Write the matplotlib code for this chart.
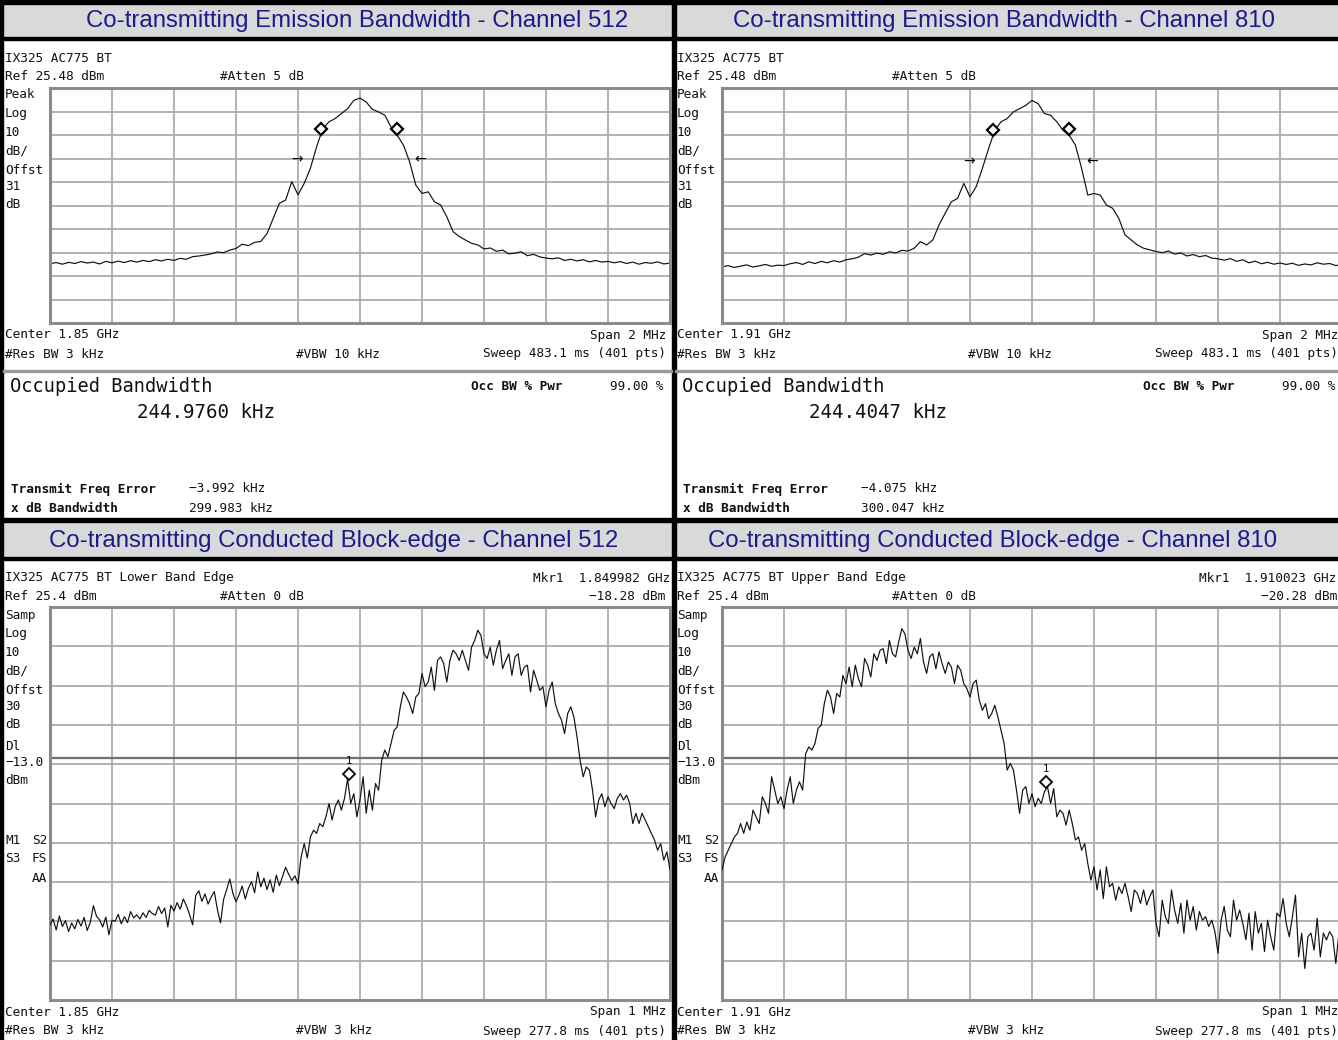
import numpy as np
import matplotlib
matplotlib.use("Agg")
import matplotlib.pyplot as plt
from matplotlib.patches import Rectangle
import matplotlib.transforms as mtransforms

W, H = 1338, 1040
plt.rcParams["font.family"] = ["DejaVu Sans Mono"]

# ============================================================
# Trace data (dBm), points equally spaced across the span
# ============================================================
# Occupied bandwidth sweeps, span 2 MHz, 101 points
obw_ch512 = [-49.3, -48.8, -49.5, -48.7, -49.2, -48.4, -49.0, -48.6, -49.4, -48.3, -48.9,
             -48.2, -48.8, -48.0, -48.6, -47.9, -48.4, -47.6, -48.1, -47.4, -47.9,
             -47.0, -47.4, -46.3, -46.0, -45.6, -45.1, -44.3, -44.6, -43.5, -42.8,
             -41.0, -41.6, -40.2, -39.8, -36.5, -30.0, -23.6, -22.2, -14.4, -20.0,
             -15.1, -8.7, 0.5, 8.2, 11.1, 12.5, 14.6, 16.7, 20.2, 21.2,
             19.5, 16.4, 15.3, 13.9, 8.9, 5.4, 1.2, -5.9, -15.8, -19.4,
             -18.7, -22.9, -24.3, -29.3, -35.6, -37.7, -39.2, -40.6, -41.3, -43.0,
             -42.6, -44.0, -43.5, -45.1, -44.8, -44.2, -45.9, -45.3, -46.4, -46.9,
             -47.2, -46.8, -47.9, -47.4, -48.1, -47.6, -48.5, -47.9, -48.6, -48.3,
             -48.9, -48.4, -49.2, -48.6, -49.5, -48.8, -49.1, -48.5, -49.4, -49.0]
obw_ch810 = [-50.6, -50.1, -50.9, -50.3, -49.8, -50.7, -50.2, -49.6, -50.4, -49.9, -50.1,
             -49.3, -48.8, -49.6, -48.5, -49.2, -48.3, -48.9, -48.0, -48.6, -47.6,
             -47.2, -46.5, -45.0, -45.6, -44.8, -45.3, -44.2, -44.7, -43.6, -43.9,
             -42.7, -39.9, -41.3, -39.2, -32.8, -27.8, -22.9, -21.5, -15.1, -20.8,
             -16.5, -8.7, -0.3, 7.5, 11.1, 12.5, 15.3, 16.7, 18.1, 20.2,
             18.8, 14.6, 13.9, 11.1, 7.5, 5.4, 1.2, -8.7, -20.1, -19.4,
             -20.1, -24.3, -25.7, -30.0, -37.0, -39.2, -41.3, -42.7, -43.4, -44.1,
             -44.6, -43.9, -45.2, -44.7, -46.0, -45.4, -46.3, -45.8, -46.9, -47.2,
             -47.8, -47.1, -48.3, -47.6, -48.9, -48.2, -49.3, -48.7, -49.5, -49.0,
             -49.6, -49.1, -50.0, -49.4, -49.8, -48.9, -49.5, -49.2, -50.1, -49.6]

# Block-edge sweeps, span 1 MHz, 201 points
edge_ch512 = [-55.5, -54.0, -56.8, -53.2, -55.9, -54.4, -57.2, -55.0, -56.5, -54.1, -55.8,
              -53.6, -56.9, -54.8, -50.6, -53.3, -54.2, -56.0, -53.5, -58.0, -54.3,
              -54.6, -52.8, -55.2, -53.4, -54.9, -52.1, -53.7, -52.9, -54.0, -52.4,
              -53.6, -51.8, -52.6, -53.0, -50.8, -52.6, -51.2, -56.0, -50.5, -52.0,
              -49.8, -51.5, -48.9, -50.6, -52.8, -55.5, -48.0, -46.8, -49.5, -47.6,
              -50.2, -48.4, -47.0, -51.6, -55.0, -49.0, -46.5, -43.8, -47.5, -49.6,
              -47.8, -45.6, -48.9, -46.2, -44.5, -47.3, -42.0, -45.8, -43.6, -46.5,
              -44.0, -47.2, -42.8, -45.5, -43.2, -40.8, -42.6, -44.2, -43.0, -45.0,
              -38.2, -34.8, -38.5, -33.1, -31.4, -32.2, -29.7, -30.5, -28.0, -24.6,
              -28.8, -25.4, -23.7, -26.3, -23.3, -18.3, -24.6, -22.1, -28.0, -23.7,
              -17.8, -27.1, -21.2, -26.3, -19.5, -21.2, -13.6, -11.0, -12.7, -9.3,
              -6.0, -5.1, 0.0, 3.8, 2.5, 0.8, -1.7, 2.5, 3.4, 8.5,
              5.1, 6.3, 10.1, 4.2, 11.8, 12.7, 11.0, 6.3, 11.8, 14.4,
              13.5, 11.8, 14.4, 11.8, 9.3, 15.2, 16.9, 19.5, 18.2, 13.5,
              12.3, 15.2, 10.6, 14.4, 16.9, 9.7, 11.8, 13.5, 8.0, 12.7,
              13.5, 8.0, 10.1, 10.6, 3.8, 9.3, 6.8, 4.2, 5.1, 0.0,
              4.2, 6.3, 0.8, -1.7, -3.4, -6.8, -1.7, 0.0, -2.6, -7.6,
              -13.6, -17.8, -15.3, -16.1, -21.2, -28.0, -23.7, -22.1, -25.4, -22.9,
              -24.6, -25.9, -23.3, -22.1, -23.7, -22.5, -24.6, -29.7, -27.1, -29.7,
              -27.1, -28.8, -30.5, -32.2, -33.9, -36.5, -34.8, -39.0, -36.9, -41.5]
edge_ch810 = [-41.5, -38.2, -36.5, -34.8, -33.1, -32.2, -29.7, -32.2, -29.3, -31.4, -26.3,
              -28.0, -29.7, -22.9, -24.6, -27.1, -17.8, -21.2, -24.6, -22.9, -25.9,
              -21.2, -17.8, -24.6, -21.2, -19.1, -21.2, -11.9, -10.2, -11.0, -9.3,
              -5.5, -4.7, 0.8, 4.2, 2.5, -1.7, 3.4, 2.5, 8.0, 5.9,
              10.1, 5.1, 10.6, 7.2, 5.1, 12.3, 10.6, 7.6, 13.5, 11.8,
              14.4, 14.8, 11.0, 16.9, 13.5, 12.7, 16.5, 19.9, 18.6, 14.4,
              12.3, 15.2, 13.5, 17.4, 11.4, 8.5, 12.7, 13.5, 9.7, 14.0,
              11.0, 8.5, 11.4, 10.1, 5.9, 10.6, 9.3, 5.9, 4.6, 2.5,
              5.9, 6.8, 1.7, -0.9, 0.8, -3.0, -1.7, 0.4, -2.6, -6.0,
              -9.3, -16.1, -14.4, -16.1, -21.2, -27.1, -21.2, -20.3, -24.6, -22.1,
              -25.4, -23.3, -24.6, -21.6, -20.3, -24.6, -20.8, -28.0, -26.3, -27.1,
              -30.1, -26.3, -29.7, -33.9, -33.1, -36.5, -34.8, -39.9, -44.1, -40.7,
              -46.6, -41.5, -48.8, -40.7, -45.8, -44.9, -49.2, -45.8, -47.5, -44.9,
              -48.3, -52.1, -46.6, -47.5, -50.0, -46.6, -50.4, -48.3, -46.6, -55.1,
              -58.5, -49.2, -53.4, -55.1, -46.6, -51.7, -55.1, -50.0, -57.6, -49.2,
              -54.3, -50.8, -56.8, -52.1, -54.3, -53.4, -55.9, -54.3, -57.2, -62.7,
              -54.3, -50.8, -56.8, -58.5, -49.2, -54.3, -51.7, -55.1, -59.3, -52.5,
              -61.9, -52.1, -57.6, -55.1, -62.3, -54.3, -58.5, -61.9, -52.5, -53.4,
              -48.8, -55.1, -58.5, -53.4, -47.9, -63.6, -57.6, -66.6, -58.5, -57.6,
              -61.9, -53.8, -63.6, -57.6, -59.3, -57.2, -58.5, -65.3, -57.6, -58.5]

# Measurement results
titles_obw = ["Co-transmitting Emission Bandwidth - Channel 512",
              "Co-transmitting Emission Bandwidth - Channel 810"]
titles_edge = ["Co-transmitting Conducted Block-edge - Channel 512",
               "Co-transmitting Conducted Block-edge - Channel 810"]
centers = ["1.85", "1.91"]
obw_khz = [244.9760, 244.4047]
freq_err_khz = [-3.992, -4.075]
xdb_bw_khz = [299.983, 300.047]
edge_names = ["Lower", "Upper"]
mkr_ghz = [1.849982, 1.910023]
mkr_dbm = [-18.28, -20.28]
ref_obw, ref_edge = 25.48, 25.4
span_obw, span_edge = 2000.0, 1000.0  # kHz
display_line = -13.0

# ============================================================
# Figure
# ============================================================
fig = plt.figure(figsize=(W / 100, H / 100), dpi=100)
bg = fig.add_axes([0, 0, 1, 1])
bg.set_xlim(0, W)
bg.set_ylim(H, 0)
bg.axis("off")

TITLE_BG = "#d9d9d9"
NAVY = "#1a1a8c"
SMALL = 9.2


def txt(x, y, s, size=SMALL, **kw):
    bg.text(x, y, s, fontsize=size, va="center", color="#111111", **kw)


def grid_axes(px, py, pw, ph, span, ref):
    ax = fig.add_axes([px / W, 1 - (py + ph) / H, pw / W, ph / H])
    ax.set_xlim(-span / 2, span / 2)
    ax.set_ylim(ref - 100, ref)
    ax.set_xticks(np.linspace(-span / 2, span / 2, 11))
    ax.set_yticks(np.linspace(ref - 100, ref, 11))
    ax.grid(True, color="#adadad", lw=1.3)
    ax.tick_params(length=0, labelbottom=False, labelleft=False)
    for s in ax.spines.values():
        s.set_color("#8c8c8c")
        s.set_linewidth(2.2)
    return ax


# frame: title bars and black rules
bg.add_patch(Rectangle((0, 4), W, 33, color=TITLE_BG, zorder=0))
bg.add_patch(Rectangle((0, 522), W, 35, color=TITLE_BG, zorder=0))
for y0, h in [(0, 4), (37, 3), (518, 4), (557, 3)]:
    bg.add_patch(Rectangle((0, y0), W, h, color="black", zorder=1))
bg.add_patch(Rectangle((0, 0), 3, H, color="black", zorder=1))
bg.add_patch(Rectangle((671.5, 0), 4.5, H, color="black", zorder=1))
bg.text(357, 21, titles_obw[0], ha="center", va="center", fontsize=17.3,
        color=NAVY, family="Liberation Sans")
bg.text(1004, 21, titles_obw[1], ha="center", va="center", fontsize=17.3,
        color=NAVY, family="Liberation Sans")
bg.text(334, 541, titles_edge[0], ha="center", va="center", fontsize=17.3,
        color=NAVY, family="Liberation Sans")
bg.text(993, 541, titles_edge[1], ha="center", va="center", fontsize=17.3,
        color=NAVY, family="Liberation Sans")

obw_traces = [obw_ch512, obw_ch810]
edge_traces = [edge_ch512, edge_ch810]

for i, dx in enumerate([0, 672]):
    # ---------------- occupied bandwidth panel ----------------
    txt(dx + 5, 58, "IX325 AC775 BT")
    txt(dx + 5, 77, f"Ref {ref_obw} dBm")
    txt(dx + 220, 77, "#Atten 5 dB")
    for y, s in zip([95, 113, 132, 151, 170, 187, 204],
                    ["Peak", "Log", "10", "dB/", "Offst", "31", "dB"]):
        txt(dx + 5, y, s)
    txt(dx + 5, 335, f"Center {centers[i]} GHz")
    txt(dx + 666, 335, "Span 2 MHz", ha="right")
    txt(dx + 5, 354, "#Res BW 3 kHz")
    txt(dx + 296, 354, "#VBW 10 kHz")
    txt(dx + 666, 354, "Sweep 483.1 ms (401 pts)", ha="right")
    bg.add_patch(Rectangle((dx + 3, 369.5), 669, 2, color="#9a9a9a", zorder=1))
    txt(dx + 10, 387, "Occupied Bandwidth", size=13.4)
    txt(dx + 137, 413, f"{obw_khz[i]:.4f} kHz", size=13.8)
    txt(dx + 471, 387, "Occ BW % Pwr", weight="bold")
    txt(dx + 610, 387, "99.00 %")
    txt(dx + 11, 489, "Transmit Freq Error", weight="bold")
    txt(dx + 189, 489, f"\u2212{abs(freq_err_khz[i]):.3f} kHz")
    txt(dx + 11, 508, "x dB Bandwidth", weight="bold")
    txt(dx + 189, 508, f"{xdb_bw_khz[i]:.3f} kHz")

    ax = grid_axes(dx + 50, 88, 620, 235, span_obw, ref_obw)
    trace = np.array(obw_traces[i])
    f = np.linspace(-span_obw / 2, span_obw / 2, len(trace))
    ax.plot(f, trace, color="#111111", lw=0.85)
    f_lo = freq_err_khz[i] - obw_khz[i] / 2
    f_hi = freq_err_khz[i] + obw_khz[i] / 2
    ax.plot([f_lo, f_hi], np.interp([f_lo, f_hi], f, trace) + 2.5, "D",
            ms=6, mfc="white", mec="black", mew=1.6)
    y_arr = trace.max() - 26
    ax.text(freq_err_khz[i] - xdb_bw_khz[i] / 2 - 30, y_arr, "\u2192", ha="right",
            va="center", fontsize=10, family="DejaVu Sans")
    ax.text(freq_err_khz[i] + xdb_bw_khz[i] / 2 + 30, y_arr, "\u2190", ha="left",
            va="center", fontsize=10, family="DejaVu Sans")

    # ---------------- block edge panel ----------------
    txt(dx + 5, 578, f"IX325 AC775 BT {edge_names[i]} Band Edge")
    txt(min(dx + 670, W - 2), 578, f"Mkr1  {mkr_ghz[i]:.6f} GHz", ha="right")
    txt(dx + 5, 597, f"Ref {ref_edge} dBm")
    txt(dx + 220, 597, "#Atten 0 dB")
    txt(dx + 665, 597, f"\u2212{abs(mkr_dbm[i]):.2f} dBm", ha="right")
    for y, s in zip([615, 634, 652, 671, 690, 707, 724, 746, 763, 780, 840, 859],
                    ["Samp", "Log", "10", "dB/", "Offst", "30", "dB", "Dl",
                     f"\u2212{abs(display_line):.1f}", "dBm", "M1", "S3"]):
        txt(dx + 5, y, s)
    txt(dx + 47, 840, "S2", ha="right")
    txt(dx + 47, 859, "FS", ha="right")
    txt(dx + 47, 878, "AA", ha="right")
    txt(dx + 5, 1012, f"Center {centers[i]} GHz")
    txt(dx + 666, 1012, "Span 1 MHz", ha="right")
    txt(dx + 5, 1031, "#Res BW 3 kHz")
    txt(dx + 296, 1031, "#VBW 3 kHz")
    txt(dx + 666, 1031, "Sweep 277.8 ms (401 pts)", ha="right")

    ax2 = grid_axes(dx + 50, 607, 620, 393, span_edge, ref_edge)
    trace2 = np.array(edge_traces[i])
    f2 = np.linspace(-span_edge / 2, span_edge / 2, len(trace2))
    ax2.axhline(display_line, color="#6e6e6e", lw=1.6, zorder=2)
    ax2.plot(f2, trace2, color="#111111", lw=0.85, zorder=3)
    fm = (mkr_ghz[i] - float(centers[i])) * 1e6
    up = mtransforms.offset_copy(ax2.transData, fig=fig, x=0, y=5, units="dots")
    ax2.plot([fm], [mkr_dbm[i]], "D", ms=6, mfc="white", mec="black", mew=1.3,
             transform=up, zorder=4)
    lab = mtransforms.offset_copy(ax2.transData, fig=fig, x=0, y=18, units="dots")
    ax2.text(fm, mkr_dbm[i], "1", ha="center", va="center", fontsize=7.5,
             transform=lab, zorder=4)

fig.savefig("out.png", dpi=100)
